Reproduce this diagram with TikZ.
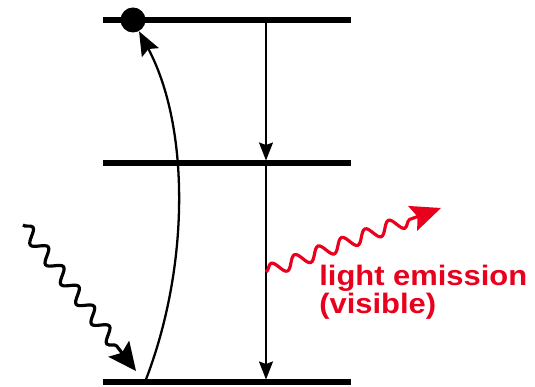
\documentclass[tikz,border=0pt]{standalone}
\usepackage{fontspec}
\newfontfamily\labelfont{Liberation Sans}[FakeStretch=1.1]
\usetikzlibrary{arrows.meta,decorations.pathmorphing}
\definecolor{emitred}{RGB}{232,0,28}

\begin{document}
\begin{tikzpicture}[
    levelline/.style={line width=3.2pt},
    dot/.style={circle, fill=black, inner sep=0pt, minimum size=0.5cm},
    decay/.style={line width=0.9pt, -{Stealth[length=0.36cm, width=0.28cm, inset=0.05cm]}},
    excite/.style={line width=1.3pt, -{Stealth[length=0.48cm, width=0.38cm, inset=0.08cm]}},
    photon/.style={line width=1.8pt, decorate,
      decoration={snake, amplitude=0.13cm, segment length=0.5cm, post length=0.5cm}},
]
    \useasboundingbox (0,0) rectangle (10.7,7.74);

    % Energy levels
    \coordinate (top w) at (2.06,7.34);
    \coordinate (top e) at (7.02,7.34);
    \coordinate (mid w) at (2.06,4.48);
    \coordinate (mid e) at (7.02,4.48);
    \coordinate (low w) at (2.06,0.10);
    \coordinate (low e) at (7.02,0.10);
    \draw[levelline] (top w) -- (top e);
    \draw[levelline] (mid w) -- (mid e);
    \draw[levelline] (low w) -- (low e);

    % Excited electron
    \node[dot] (electron) at (2.66,7.34) {};

    % Excitation (curved arrow up)
    \coordinate (pump) at (2.90,0.10);
    \draw[excite] (pump) .. controls (3.80,2.4) and (3.80,5.2) .. (electron);

    % Relaxation steps
    \coordinate (drop top) at (5.32,7.34);
    \coordinate (drop mid) at (5.32,4.53);
    \coordinate (drop mid2) at (5.32,4.48);
    \coordinate (drop low) at (5.32,0.15);
    \draw[decay] (drop top) -- (drop mid);
    \draw[decay] (drop mid2) -- (drop low);

    % Incoming light
    \coordinate (light in) at (0.46,3.24);
    \coordinate (light hit) at (2.72,0.32);
    \draw[photon, -{Stealth[length=0.56cm, width=0.52cm, inset=0.1cm]}] (light in) -- (light hit);

    % Emitted light
    \coordinate (emit start) at (5.32,2.30);
    \coordinate (emit end) at (8.82,3.58);
    \draw[photon, emitred, -{Stealth[length=0.6cm, width=0.52cm, inset=0.1cm]}] (emit start) -- (emit end);
    \node[text=emitred, anchor=north west, inner sep=0pt, align=left,
      font=\labelfont\bfseries\fontsize{16}{14.2}\selectfont] (emission) at (6.38,2.44)
      {light emission\\(visible)};
\end{tikzpicture}
\end{document}
